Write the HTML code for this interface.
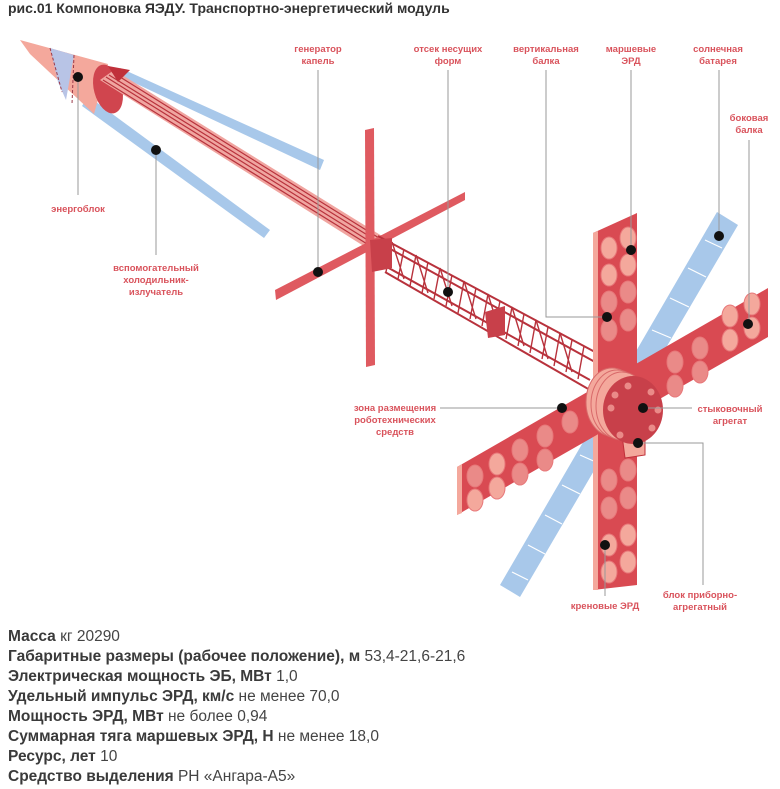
<!DOCTYPE html>
<html><head><meta charset="utf-8"><style>
body{margin:0;background:#fff;width:780px;height:789px;overflow:hidden;font-family:"Liberation Sans",sans-serif}
svg{position:absolute;left:0;top:0}
.t{position:absolute;left:8px;top:0px;font-size:14px;font-weight:bold;color:#333}
.specs{position:absolute;left:8px;top:627px;font-size:15.5px;line-height:20px;color:#444}
.specs b{color:#3a3a3a}
</style></head><body>
<div class="t">рис.01 Компоновка ЯЭДУ. Транспортно-энергетический модуль</div>
<svg width="780" height="789" viewBox="0 0 780 789" font-family="Liberation Sans, sans-serif">
<!-- blue radiators -->
<polygon points="120,68 124,78 320,170 324,160" fill="#a8c8ea"/>
<polygon points="88,96 82,106 264,238 270,230" fill="#a8c8ea"/>
<!-- cone -->
<polygon points="20,40 108,64 94,114 30,54" fill="#f4a89c"/>
<polygon points="50,48 74,55 66,100 58,82" fill="#b8c4e6"/>
<line x1="50" y1="48" x2="62" y2="92" stroke="#9b3a4a" stroke-dasharray="3,2"/>
<line x1="74" y1="55" x2="72" y2="104" stroke="#9b3a4a" stroke-dasharray="3,2"/>
<ellipse cx="108" cy="89" rx="14" ry="25" fill="#d0454e" transform="rotate(-15 108 89)"/>
<!-- main rod -->
<polygon points="100,80 114,70 382,236 370,250" fill="#f0a5a0"/>
<g stroke="#b8323c" stroke-width="1.2">
<line x1="103" y1="80" x2="372" y2="247"/><line x1="106" y1="77" x2="374" y2="244"/><line x1="109" y1="75" x2="377" y2="241"/><line x1="112" y1="72" x2="379" y2="238"/>
</g>
<polygon points="108,66 130,70 118,82" fill="#c0303a"/>
<!-- cross bar -->
<polygon points="365,130 374,128 375,365 366,367" fill="#df5a60"/>
<polygon points="275,290 465,192 465,200 276,300" fill="#df5a60"/>
<!-- lattice truss -->
<g stroke="#b8323c" stroke-width="2" fill="none">
<line x1="378" y1="236" x2="595" y2="352"/>
<line x1="385" y1="246" x2="595" y2="362"/>
<line x1="378" y1="262" x2="590" y2="380"/>
<line x1="385" y1="272" x2="590" y2="390"/>
</g>
<g stroke="#b8323c" stroke-width="1.4" id="v">
<path d="M392,242 L386,272 M404,249 L398,279 M416,255 L410,286 M428,262 L422,293 M440,268 L434,299 M452,275 L446,306 M464,281 L458,313 M476,288 L470,319 M488,294 L482,326 M500,301 L494,333 M512,307 L506,339 M524,314 L518,346 M536,320 L530,353 M548,327 L542,359 M560,333 L554,366 M572,340 L566,372 M584,346 L578,379"/>
<path d="M392,242 L404,279 M416,255 L428,293 M440,268 L452,306 M464,281 L476,319 M488,294 L500,333 M512,307 L524,346 M536,320 L548,359 M560,333 L572,372"/>
</g>
<polygon points="370,240 392,238 392,268 372,272" fill="#c8404a"/>
<polygon points="485,312 505,306 505,335 488,338" fill="#c8404a"/>
<!-- blue solar -->
<polygon points="717,212 738,225 520,597 500,585" fill="#a8c8ea"/>
<g stroke="#fff" stroke-width="1.2">
<line x1="705" y1="240" x2="722" y2="248"/><line x1="688" y1="268" x2="706" y2="277"/><line x1="670" y1="298" x2="689" y2="307"/><line x1="652" y1="330" x2="671" y2="338"/><line x1="580" y1="455" x2="598" y2="463"/><line x1="562" y1="485" x2="580" y2="494"/><line x1="545" y1="515" x2="562" y2="524"/><line x1="528" y1="545" x2="545" y2="554"/><line x1="512" y1="572" x2="528" y2="580"/>
</g>
<!-- vertical beam -->
<polygon points="593,233 637,213 637,585 593,590" fill="#d94a52"/>
<polygon points="593,233 598,231 598,590 593,590" fill="#f4a89c"/>
<g fill="#f4a89c" stroke="#e8787a">
<ellipse cx="609" cy="248" rx="8" ry="11"/><ellipse cx="628" cy="238" rx="8" ry="11"/>
<ellipse cx="609" cy="275" rx="8" ry="11"/><ellipse cx="628" cy="265" rx="8" ry="11"/>
<ellipse cx="609" cy="302" rx="8" ry="11" fill="#ea8a88"/><ellipse cx="628" cy="292" rx="8" ry="11" fill="#ea8a88"/>
<ellipse cx="609" cy="330" rx="8" ry="11" fill="#ea8a88"/><ellipse cx="628" cy="320" rx="8" ry="11" fill="#ea8a88"/>
<ellipse cx="609" cy="480" rx="8" ry="11" fill="#ea8a88"/><ellipse cx="628" cy="470" rx="8" ry="11" fill="#ea8a88"/>
<ellipse cx="609" cy="508" rx="8" ry="11" fill="#ea8a88"/><ellipse cx="628" cy="498" rx="8" ry="11" fill="#ea8a88"/>
<ellipse cx="609" cy="545" rx="8" ry="11"/><ellipse cx="628" cy="535" rx="8" ry="11"/>
<ellipse cx="609" cy="572" rx="8" ry="11"/><ellipse cx="628" cy="562" rx="8" ry="11"/>
</g>
<!-- horizontal panel -->
<polygon points="457,467 768,288 768,337 457,515" fill="#d94a52"/>
<polygon points="457,467 462,464 462,513 457,515" fill="#f4a89c"/>
<g fill="#ea8a88" stroke="#e8787a">
<ellipse cx="475" cy="476" rx="8" ry="11"/><ellipse cx="475" cy="500" rx="8" ry="11" fill="#f4a89c"/>
<ellipse cx="497" cy="464" rx="8" ry="11" fill="#f4a89c"/><ellipse cx="497" cy="488" rx="8" ry="11" fill="#f4a89c"/>
<ellipse cx="520" cy="450" rx="8" ry="11"/><ellipse cx="520" cy="474" rx="8" ry="11"/>
<ellipse cx="545" cy="436" rx="8" ry="11"/><ellipse cx="545" cy="460" rx="8" ry="11"/>
<ellipse cx="570" cy="422" rx="8" ry="11"/>
<ellipse cx="675" cy="362" rx="8" ry="11"/><ellipse cx="675" cy="386" rx="8" ry="11"/>
<ellipse cx="700" cy="348" rx="8" ry="11"/><ellipse cx="700" cy="372" rx="8" ry="11"/>
<ellipse cx="730" cy="316" rx="8" ry="11" fill="#f4a89c"/><ellipse cx="730" cy="340" rx="8" ry="11" fill="#f4a89c"/>
<ellipse cx="752" cy="304" rx="8" ry="11" fill="#f4a89c"/><ellipse cx="752" cy="328" rx="8" ry="11" fill="#f4a89c"/>
</g>
<!-- hub -->
<g fill="#f4a89c" stroke="#d86a6a">
<ellipse cx="612" cy="402" rx="26" ry="34"/><ellipse cx="617" cy="404" rx="26" ry="34"/><ellipse cx="622" cy="406" rx="26" ry="34"/>
</g>
<polygon points="622,435 645,432 645,455 625,458" fill="#f4a89c" stroke="#c0303a"/>
<ellipse cx="633" cy="410" rx="30" ry="34" fill="#c8404a"/>
<g fill="#ea8a88"><circle cx="628" cy="386" r="3.5"/><circle cx="651" cy="392" r="3.5"/><circle cx="658" cy="410" r="3.5"/><circle cx="652" cy="428" r="3.5"/><circle cx="620" cy="435" r="3.5"/><circle cx="611" cy="408" r="3.5"/><circle cx="615" cy="395" r="3.5"/></g>
<!-- leaders -->
<g stroke="#999" stroke-width="1" fill="none">
<line x1="318" y1="70" x2="318" y2="272"/>
<line x1="448" y1="70" x2="448" y2="292"/>
<polyline points="546,70 546,317 607,317"/>
<line x1="631" y1="70" x2="631" y2="250"/>
<line x1="719" y1="70" x2="719" y2="236"/>
<line x1="749" y1="140" x2="749" y2="324"/>
<line x1="78" y1="77" x2="78" y2="195"/>
<line x1="156" y1="150" x2="156" y2="255"/>
<line x1="440" y1="408" x2="562" y2="408"/>
<line x1="643" y1="408" x2="692" y2="408"/>
<polyline points="638,443 703,443 703,585"/>
<line x1="605" y1="545" x2="605" y2="596"/>
</g>
<g fill="#111">
<circle cx="318" cy="272" r="5"/><circle cx="448" cy="292" r="5"/><circle cx="607" cy="317" r="5"/><circle cx="631" cy="250" r="5"/><circle cx="719" cy="236" r="5"/><circle cx="748" cy="324" r="5"/><circle cx="78" cy="77" r="5"/><circle cx="156" cy="150" r="5"/><circle cx="562" cy="408" r="5"/><circle cx="643" cy="408" r="5"/><circle cx="638" cy="443" r="5"/><circle cx="605" cy="545" r="5"/>
</g>
<g fill="#d9535c" font-size="9.5" font-weight="bold" text-anchor="middle">
<text x="318" y="52">генератор</text><text x="318" y="64">капель</text>
<text x="448" y="52">отсек несущих</text><text x="448" y="64">форм</text>
<text x="546" y="52">вертикальная</text><text x="546" y="64">балка</text>
<text x="631" y="52">маршевые</text><text x="631" y="64">ЭРД</text>
<text x="718" y="52">солнечная</text><text x="718" y="64">батарея</text>
<text x="749" y="121">боковая</text><text x="749" y="133">балка</text>
<text x="78" y="212">энергоблок</text>
<text x="156" y="271">вспомогательный</text><text x="156" y="283">холодильник-</text><text x="156" y="295">излучатель</text>
<text x="395" y="411">зона размещения</text><text x="395" y="423">роботехнических</text><text x="395" y="435">средств</text>
<text x="730" y="412">стыковочный</text><text x="730" y="424">агрегат</text>
<text x="700" y="598">блок приборно-</text><text x="700" y="610">агрегатный</text>
<text x="605" y="609">креновые ЭРД</text>
</g>
</svg>
<div class="specs">
<div><b>Масса</b> кг 20290</div>
<div><b>Габаритные размеры (рабочее положение), м</b> 53,4-21,6-21,6</div>
<div><b>Электрическая мощность ЭБ, МВт</b> 1,0</div>
<div><b>Удельный импульс ЭРД, км/с</b> не менее 70,0</div>
<div><b>Мощность ЭРД, МВт</b> не более 0,94</div>
<div><b>Суммарная тяга маршевых ЭРД, Н</b> не менее 18,0</div>
<div><b>Ресурс, лет</b> 10</div>
<div><b>Средство выделения</b> РН «Ангара-А5»</div>
</div>
</body></html>
